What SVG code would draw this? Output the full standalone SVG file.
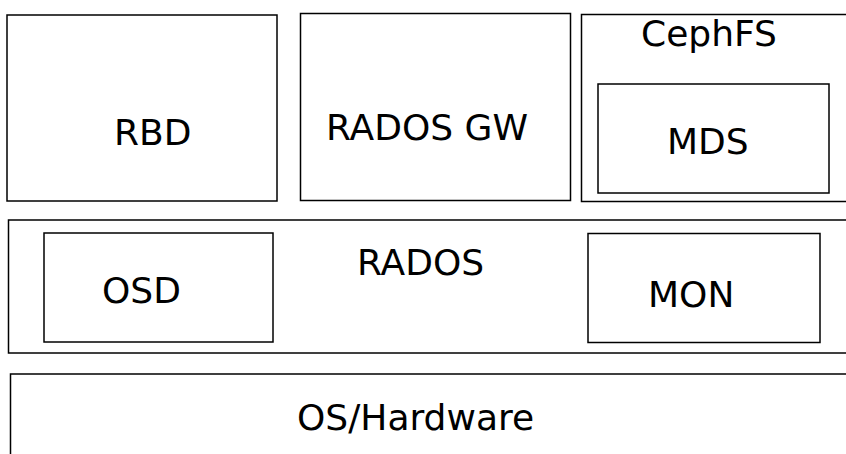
<svg xmlns="http://www.w3.org/2000/svg" width="846" height="454" viewBox="0 0 846 454">
<style>
.b{fill:#fff;stroke:#000;stroke-width:1.5}
.t{font-family:"DejaVu Sans",sans-serif;font-size:36px;fill:#000}
</style>
<rect width="846" height="454" fill="#fff"/>
<g id="rbd"><rect class="b" x="7" y="15" width="270" height="186"/><text class="t" x="114" y="145">RBD</text></g>
<g id="radosgw"><rect class="b" x="300.5" y="13.5" width="270" height="187"/><text class="t" x="326" y="139.5">RADOS GW</text></g>
<g id="cephfs"><rect class="b" x="581.5" y="14.5" width="280" height="187"/><text class="t" x="641" y="45.5">CephFS</text>
<g id="mds"><rect class="b" x="598" y="84" width="231" height="109"/><text class="t" x="667" y="153.5">MDS</text></g></g>
<g id="rados"><rect class="b" x="8.5" y="220" width="850" height="133"/><text class="t" x="357" y="274.5">RADOS</text>
<g id="osd"><rect class="b" x="44" y="233" width="229" height="109"/><text class="t" x="102" y="302.5">OSD</text></g>
<g id="mon"><rect class="b" x="588" y="233.5" width="232" height="109"/><text class="t" x="648" y="306.5">MON</text></g></g>
<g id="os"><rect class="b" x="10.5" y="374" width="850" height="100"/><text class="t" x="297" y="429.5">OS/Hardware</text></g>
<g id="connectors"></g>
</svg>
